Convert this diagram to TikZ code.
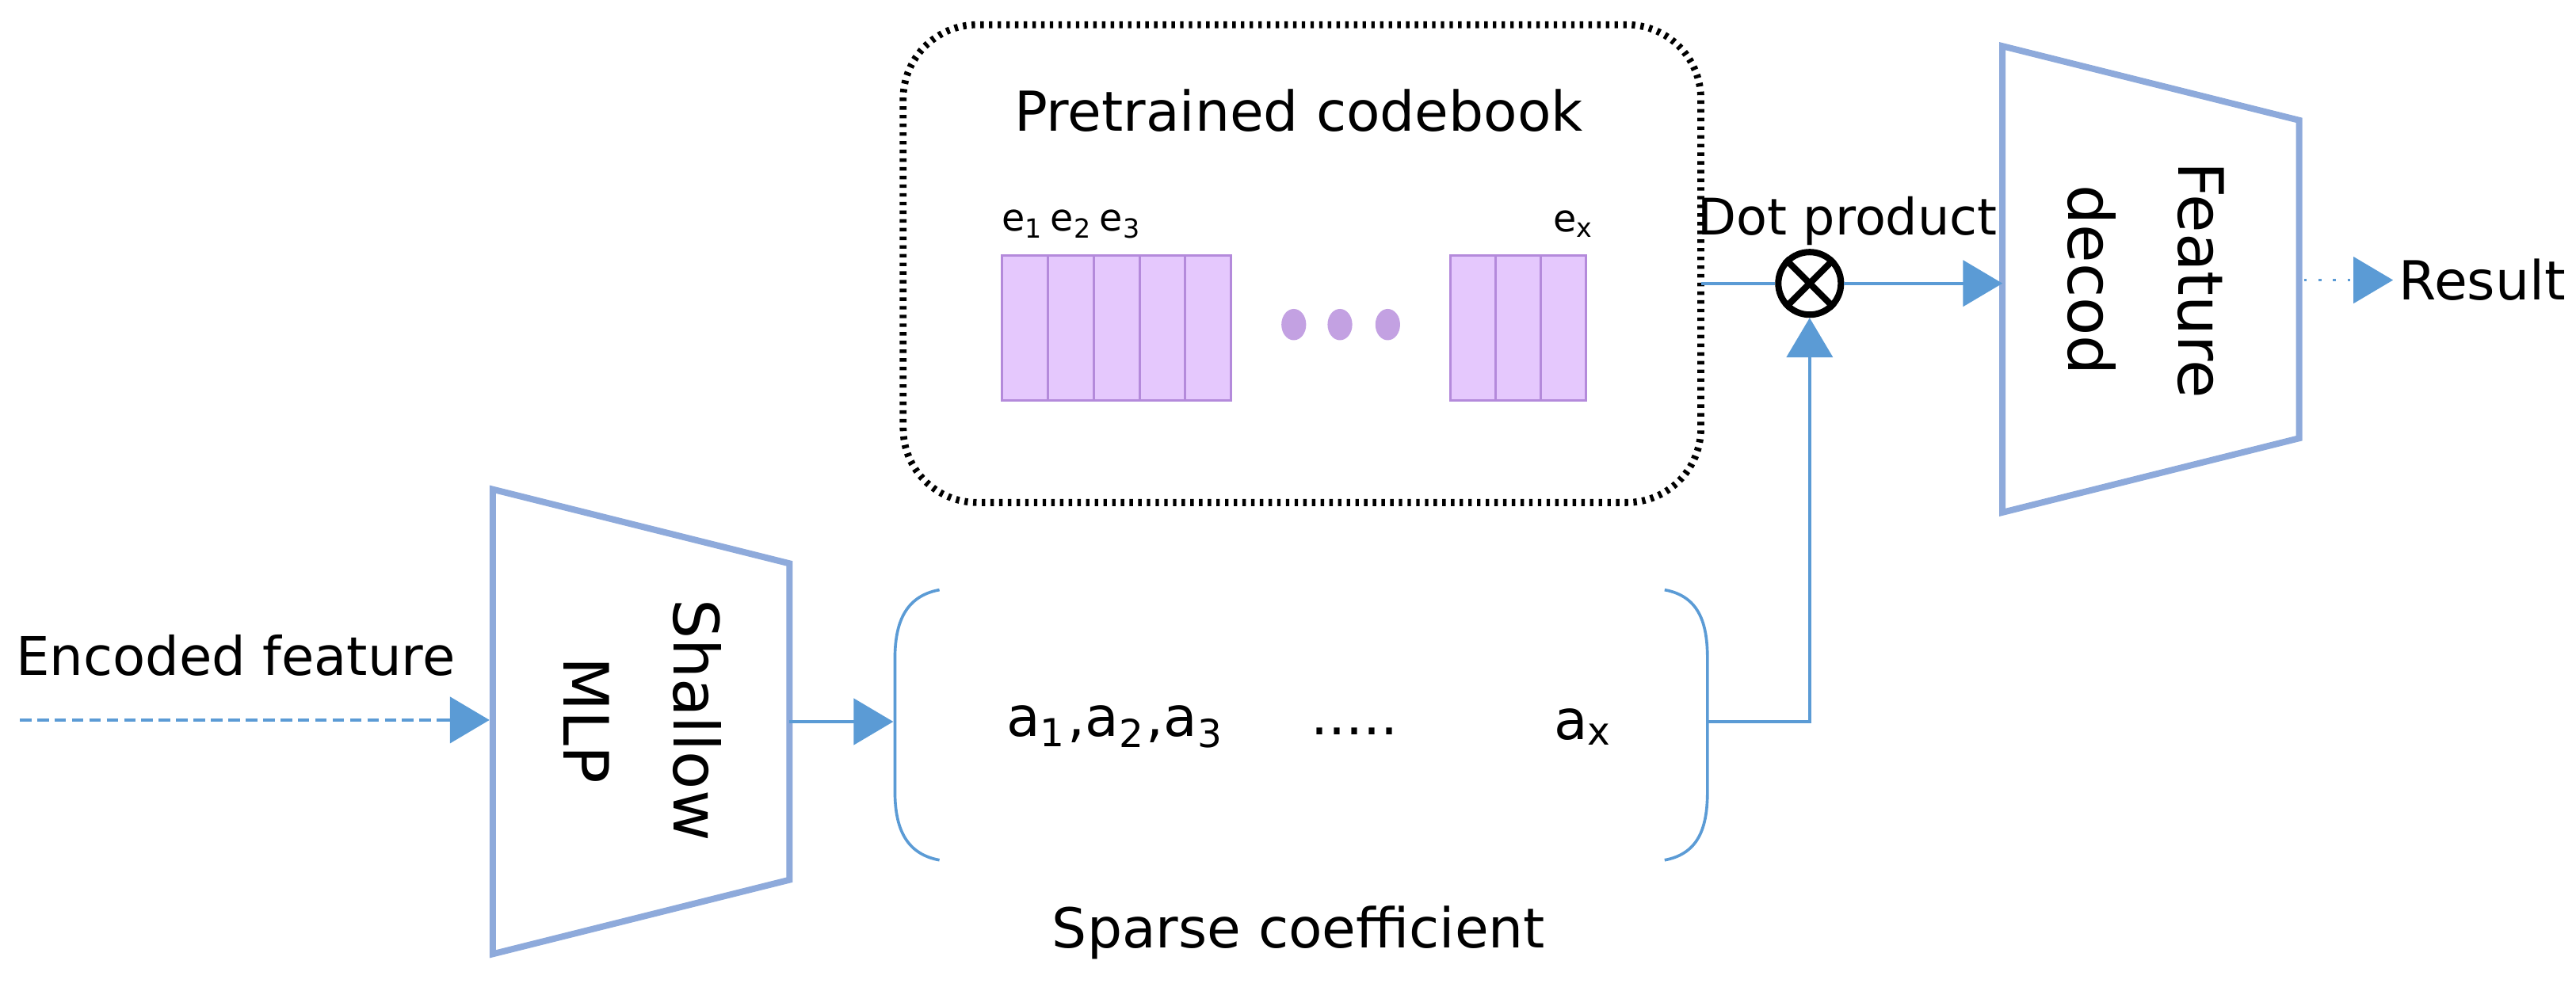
\documentclass[tikz,border=0pt]{standalone}
\usepackage{fontspec}
\setmainfont{DejaVu Sans}
\usetikzlibrary{arrows.meta}
\definecolor{ablue}{HTML}{5B9BD5}
\definecolor{tblue}{HTML}{8EAADB}
\definecolor{pfill}{HTML}{E5C8FD}
\definecolor{pline}{HTML}{B48ADB}
\tikzset{
 lbl/.style={font=\fontsize{9.2pt}{11pt}\selectfont, inner sep=0pt},
 big/.style={font=\fontsize{10.8pt}{19pt}\selectfont, inner sep=0pt, align=center, rotate=-90},
 trap/.style={draw=tblue, line width=1.1pt},
 arr/.style={draw=ablue, line width=0.5pt, -{Triangle[length=2.4mm,width=2.8mm]}},
 ln/.style={draw=ablue, line width=0.5pt},
 bar/.style={draw=pline, fill=pfill, line width=0.4pt},
}
\begin{document}
\begin{tikzpicture}[x=0.1mm,y=-0.1mm]
\useasboundingbox (0,0) rectangle (1563,601);
% codebook box
\node[draw, dash pattern=on 0.6pt off 0.9pt, line width=1.2pt, rounded corners=4.5mm, minimum width=48.4mm, minimum height=29mm, inner sep=0pt] (cb) at (790,160) {};
\node[lbl, font=\fontsize{9.5pt}{11pt}\selectfont] (cbt) at (788,67) {Pretrained codebook};
\foreach \i in {0,...,4}{\draw[bar] (608+\i*27.8,155) rectangle (608+\i*27.8+27.8,243);}
\foreach \i in {0,...,2}{\draw[bar] (880+\i*27.4,155) rectangle (880+\i*27.4+27.4,243);}
\foreach \x in {785,813,842}{\fill[pline!80] (\x,197) ellipse (0.75mm and 0.95mm);}
\node[lbl, font=\fontsize{6.5pt}{8pt}\selectfont, anchor=west] (el) at (607,136) {e\textsubscript{1}\,e\textsubscript{2}\,e\textsubscript{3}};
\node[lbl, font=\fontsize{6.5pt}{8pt}\selectfont] (ex) at (955,136) {e\textsubscript{x}};
% dot product
\node[draw, circle, line width=1.1pt, minimum size=3.8mm, inner sep=0pt] (dp) at (1098,172) {};
\draw[line width=1.1pt] (dp.north west) -- (dp.south east) (dp.north east) -- (dp.south west);
\node[lbl, font=\fontsize{8.7pt}{10pt}\selectfont] (dpl) at (1121,134) {Dot product};
% feature decoder
\draw[trap] (1215,28) -- (1395,73) -- (1395,266) -- (1215,311) -- cycle;
\coordinate (fdin) at (1215,172);
\node[big] (fd) at (1302,170) {Feature\\decod};
\coordinate (cbr) at (1032,172);
\draw[ln] (cbr) -- (dp);
\draw[arr] (dp) -- (fdin);
\coordinate (fdout) at (1398,170);
\coordinate (resa) at (1452,170);
\draw[draw=ablue, line width=0.5pt, dotted] (fdout) -- (1430,170);
\draw[arr] (1428,170) -- (resa);
\node[lbl, font=\fontsize{9.3pt}{11pt}\selectfont, anchor=west] (res) at (1455,170) {Result};
% MLP
\draw[trap] (299,297) -- (479,342) -- (479,534) -- (299,579) -- cycle;
\node[big] (mlp) at (390,437) {Shallow\\MLP};
\node[lbl] (enc) at (143,398) {Encoded feature};
\coordinate (encs) at (12,437);
\coordinate (mlpin) at (297,437);
\draw[ln, dash pattern=on 2pt off 1pt] (encs) -- (274,437);
\draw[arr] (272,437) -- (mlpin);
\coordinate (mlpout) at (479,438);
\coordinate (brin) at (542,438);
\draw[arr] (mlpout) -- (brin);
% brackets
\draw[ln] (570,358) .. controls (548,362) and (543,380) .. (543,400) -- (543,480) .. controls (543,500) and (548,518) .. (570,522);
\draw[ln] (1010,358) .. controls (1032,362) and (1036,380) .. (1036,400) -- (1036,480) .. controls (1036,500) and (1032,518) .. (1010,522);
\node[lbl, font=\fontsize{9.5pt}{12pt}\selectfont] (a1) at (677,441) {a\textsubscript{1},a\textsubscript{2},a\textsubscript{3}};
\node[lbl, font=\fontsize{9.5pt}{12pt}\selectfont] (ad) at (822,444) {.....};
\node[lbl, font=\fontsize{9.5pt}{12pt}\selectfont] (ax) at (961,441) {a\textsubscript{x}};
\coordinate (brout) at (1036,438);
\draw[arr] (brout) -- (1098,438) -- (dp);
\node[lbl, font=\fontsize{9.5pt}{11pt}\selectfont] (sc) at (788,566) {Sparse coefficient};
\end{tikzpicture}
\end{document}
